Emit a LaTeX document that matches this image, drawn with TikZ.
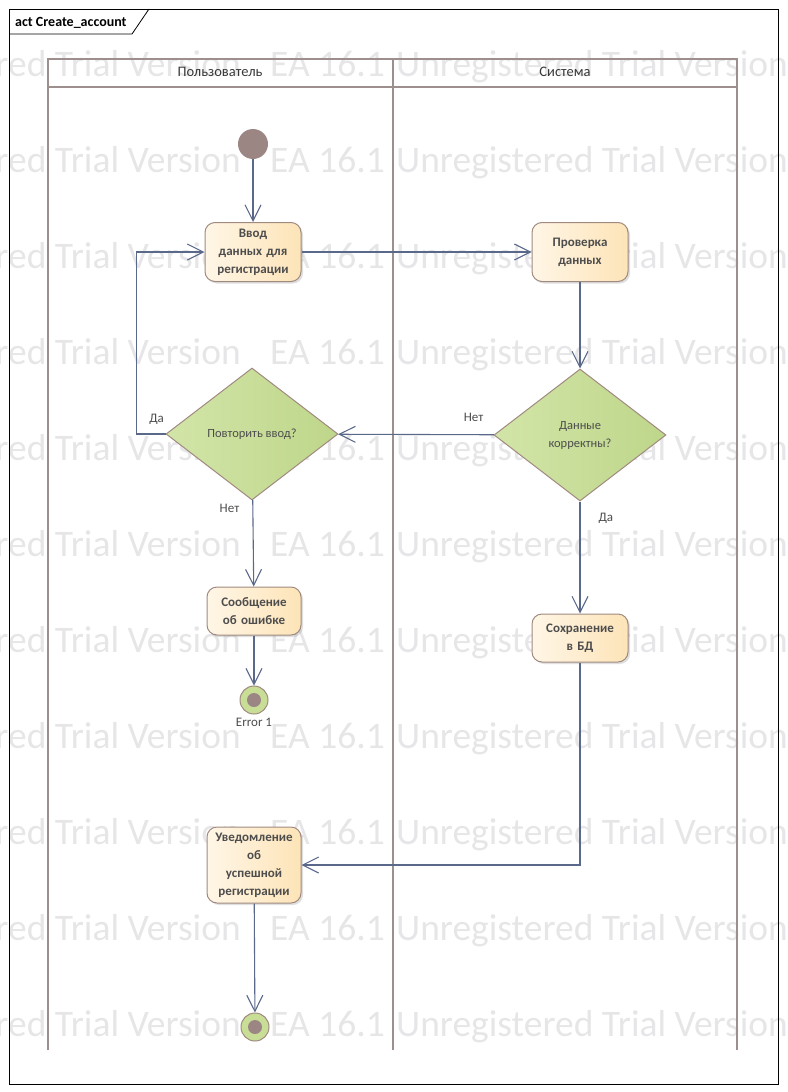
\documentclass[tikz,border=0pt]{standalone}
\usepackage{fontspec}
\setmainfont{Carlito}
\usetikzlibrary{shapes.geometric,arrows.meta,shadows}

\definecolor{lanec}{RGB}{158,143,143}
\definecolor{edgec}{RGB}{90,104,138}
\definecolor{actborder}{RGB}{160,138,128}
\definecolor{actlight}{RGB}{255,246,230}
\definecolor{actdark}{RGB}{253,228,184}
\definecolor{declight}{RGB}{210,229,168}
\definecolor{decdark}{RGB}{190,214,138}
\definecolor{dotc}{RGB}{156,134,132}
\definecolor{endfill}{RGB}{200,222,150}
\definecolor{txtc}{RGB}{77,77,77}
\definecolor{headc}{RGB}{55,55,55}
\definecolor{wmc}{RGB}{230,230,232}

\tikzset{
  action/.style={draw=actborder, line width=1pt, rounded corners=10pt,
    left color=actlight, right color=actdark, minimum width=96pt,
    align=center, text width=90pt, inner sep=2pt, text=txtc,
    font=\fontsize{13}{18}\selectfont\bfseries,
    drop shadow={shadow xshift=2pt, shadow yshift=-2pt, opacity=0.25}},
  decision/.style={diamond, draw=actborder, line width=1pt,
    left color=declight, right color=decdark, minimum width=172pt,
    minimum height=132pt, inner sep=0pt, align=center, text=txtc,
    font=\fontsize{12.5}{18}\selectfont},
  startnode/.style={circle, fill=dotc, minimum size=30pt, inner sep=0pt},
  endnode/.style={circle, draw=actborder, line width=1pt, fill=endfill,
    minimum size=28pt, inner sep=0pt,
    path picture={\fill[dotc] (path picture bounding box.center) circle (7pt);}},
  flow/.style={draw=edgec, line width=1.1pt,
    -{Straight Barb[length=16pt,width=16pt,line width=1.1pt]}},
  guard/.style={text=txtc, inner sep=1pt, font=\fontsize{13}{14}\selectfont},
  lane/.style={draw=lanec, line width=2.5pt},
  lanehead/.style={text=headc, font=\fontsize{14.5}{16}\selectfont},
  watermark/.style={text=wmc, inner sep=0pt, font=\fontsize{37.5}{40}\selectfont}
}

\begin{document}
\begin{tikzpicture}[x=1pt, y=-1pt]
\useasboundingbox (0,0) rectangle (787,1092);

%------------------ WATERMARK ------------------%
\begin{scope}
  \clip (0,0) rectangle (787,1092);
  \foreach \y in {64,160,...,1024} {
    \node[watermark, anchor=base east] at (241,\y+12) {Unregistered Trial Version};
    \node[watermark, anchor=base west] at (270,\y+12) {EA 16.1};
    \node[watermark, anchor=base west] at (396,\y+12) {Unregistered Trial Version};
  }
\end{scope}

%------------------ FRAME ------------------%
\draw[line width=0.8pt] (9,9) rectangle (778,1084);
\draw[line width=0.8pt] (9,34) -- (132,34) -- (149,9);
\node[anchor=base west, inner sep=0pt, font=\fontsize{14}{16}\selectfont\bfseries] (title) at (15,26) {act Create\_account};

%------------------ SWIMLANES ------------------%
\draw[lane] (48,1050) -- (48,59) -- (737,59) -- (737,1050);
\draw[lane] (393,59) -- (393,1050);
\draw[lane] (48,87) -- (737,87);
\node[lanehead] (userlane) at (220,72) {Пользователь};
\node[lanehead] (syslane) at (565,72) {Система};

%------------------ NODES ------------------%
\node[startnode] (start) at (253,144) {};
\node[action, minimum height=59pt] (input) at (253,252) {Ввод\\данных для\\регистрации};
\node[action, minimum height=59pt] (check) at (580,252) {Проверка\\данных};
\node[decision] (retry) at (252,434) {Повторить ввод?};
\node[decision] (valid) at (580,435) {Данные\\корректны?};
\node[action, minimum width=94pt, minimum height=48pt] (error) at (254,611) {Сообщение\\об ошибке};
\node[endnode] (errend) at (254,700) {};
\node[guard] (errlabel) at (254,722) {Error 1};
\node[action, minimum height=48pt] (save) at (580,638) {Сохранение\\в БД};
\node[action, minimum width=94pt, minimum height=76pt] (notify) at (254,865) {Уведомление\\об\\успешной\\регистрации};
\node[endnode] (finish) at (255,1027) {};

%------------------ FLOWS ------------------%
\draw[flow] (start) -- (input);
\draw[flow] (input) -- (check);
\draw[flow] (check) -- (valid);
\draw[flow] (valid) -- node[guard, pos=0.13, above=12pt] {Нет} (retry);
\draw[flow] (retry.west) node[guard, anchor=south east, yshift=8pt] {Да} -- ++(-29,0) |- (input);
\draw[flow] (retry) -- node[guard, pos=0.1, left=12pt] {Нет} (error);
\draw[flow] (valid) -- node[guard, pos=0.15, right=17pt] {Да} (save);
\draw[flow] (error) -- (errend);
\draw[flow] (save) |- (notify);
\draw[flow] (notify) -- (finish);

\end{tikzpicture}
\end{document}
